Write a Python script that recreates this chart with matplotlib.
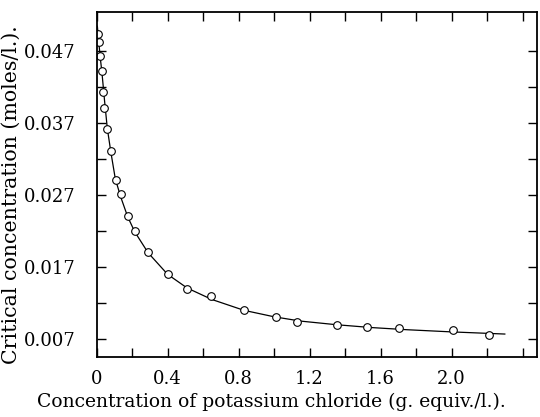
import numpy as np
import matplotlib.pyplot as plt
from matplotlib.ticker import MultipleLocator, FixedLocator

# measured points (KCl conc., critical conc.)
kcl = [0.009, 0.013, 0.019, 0.028, 0.034, 0.043, 0.056, 0.081, 0.107, 0.137,
       0.175, 0.216, 0.291, 0.403, 0.510, 0.644, 0.830, 1.008, 1.127, 1.356,
       1.521, 1.705, 2.009, 2.212]
crit = [0.0494, 0.0483, 0.0463, 0.0443, 0.0413, 0.0392, 0.0362, 0.0332, 0.0291, 0.0272,
        0.0241, 0.0220, 0.0191, 0.0160, 0.0140, 0.0130, 0.0110, 0.0101, 0.0094, 0.0089,
        0.0087, 0.0085, 0.0082, 0.0075]

# smooth curve
curve_x = [0.004, 0.010, 0.020, 0.030, 0.045, 0.060, 0.080, 0.105, 0.135, 0.175,
           0.215, 0.29, 0.40, 0.51, 0.65, 0.83, 1.0, 1.15, 1.35, 1.55, 1.75, 2.0, 2.2, 2.30]
curve_y = [0.0505, 0.0488, 0.0462, 0.0440, 0.0400, 0.0363, 0.0330, 0.0293, 0.0268, 0.0240,
           0.0219, 0.0190, 0.0160, 0.0141, 0.0125, 0.0110, 0.0101, 0.0095, 0.0090, 0.0086,
           0.0083, 0.0080, 0.0078, 0.0077]

plt.rcParams['font.family'] = ['DejaVu Serif']

fig = plt.figure(figsize=(5.4, 4.17), dpi=100)
ax = fig.add_axes([0.179, 0.1427, 0.815, 0.8278])

ax.plot(curve_x, curve_y, 'k-', lw=0.9)
ax.plot(kcl, crit, 'o', mfc='white', mec='k', mew=0.8, ms=5.5)

ax.set_xlim(0, 2.48)
ax.set_ylim(0.00444, 0.05244)
ax.xaxis.set_major_locator(FixedLocator([0, 0.4, 0.8, 1.2, 1.6, 2.0]))
ax.xaxis.set_minor_locator(MultipleLocator(0.2))
ax.set_xticklabels(['0', '0.4', '0.8', '1.2', '1.6', '2.0'])
ax.yaxis.set_major_locator(FixedLocator([0.007, 0.017, 0.027, 0.037, 0.047]))
ax.yaxis.set_minor_locator(FixedLocator([0.012, 0.022, 0.032, 0.042]))
ax.set_yticklabels(['0.007', '0.017', '0.027', '0.037', '0.047'])

ax.tick_params(which='both', direction='in', top=True, right=True,
               length=6.5, width=1.0, labelsize=13, pad=9)
ax.tick_params(axis='y', pad=15)
for s in ax.spines.values():
    s.set_linewidth(1.3)

ax.set_xlabel('Concentration of potassium chloride (g. equiv./l.).', fontsize=13.5)
ax.xaxis.set_label_coords(0.398, -0.102)
ax.set_ylabel('Critical concentration (moles/l.).', fontsize=14.8)
ax.yaxis.set_label_coords(-0.172, 0.471)

fig.savefig('out.png', dpi=100)
plt.close()
